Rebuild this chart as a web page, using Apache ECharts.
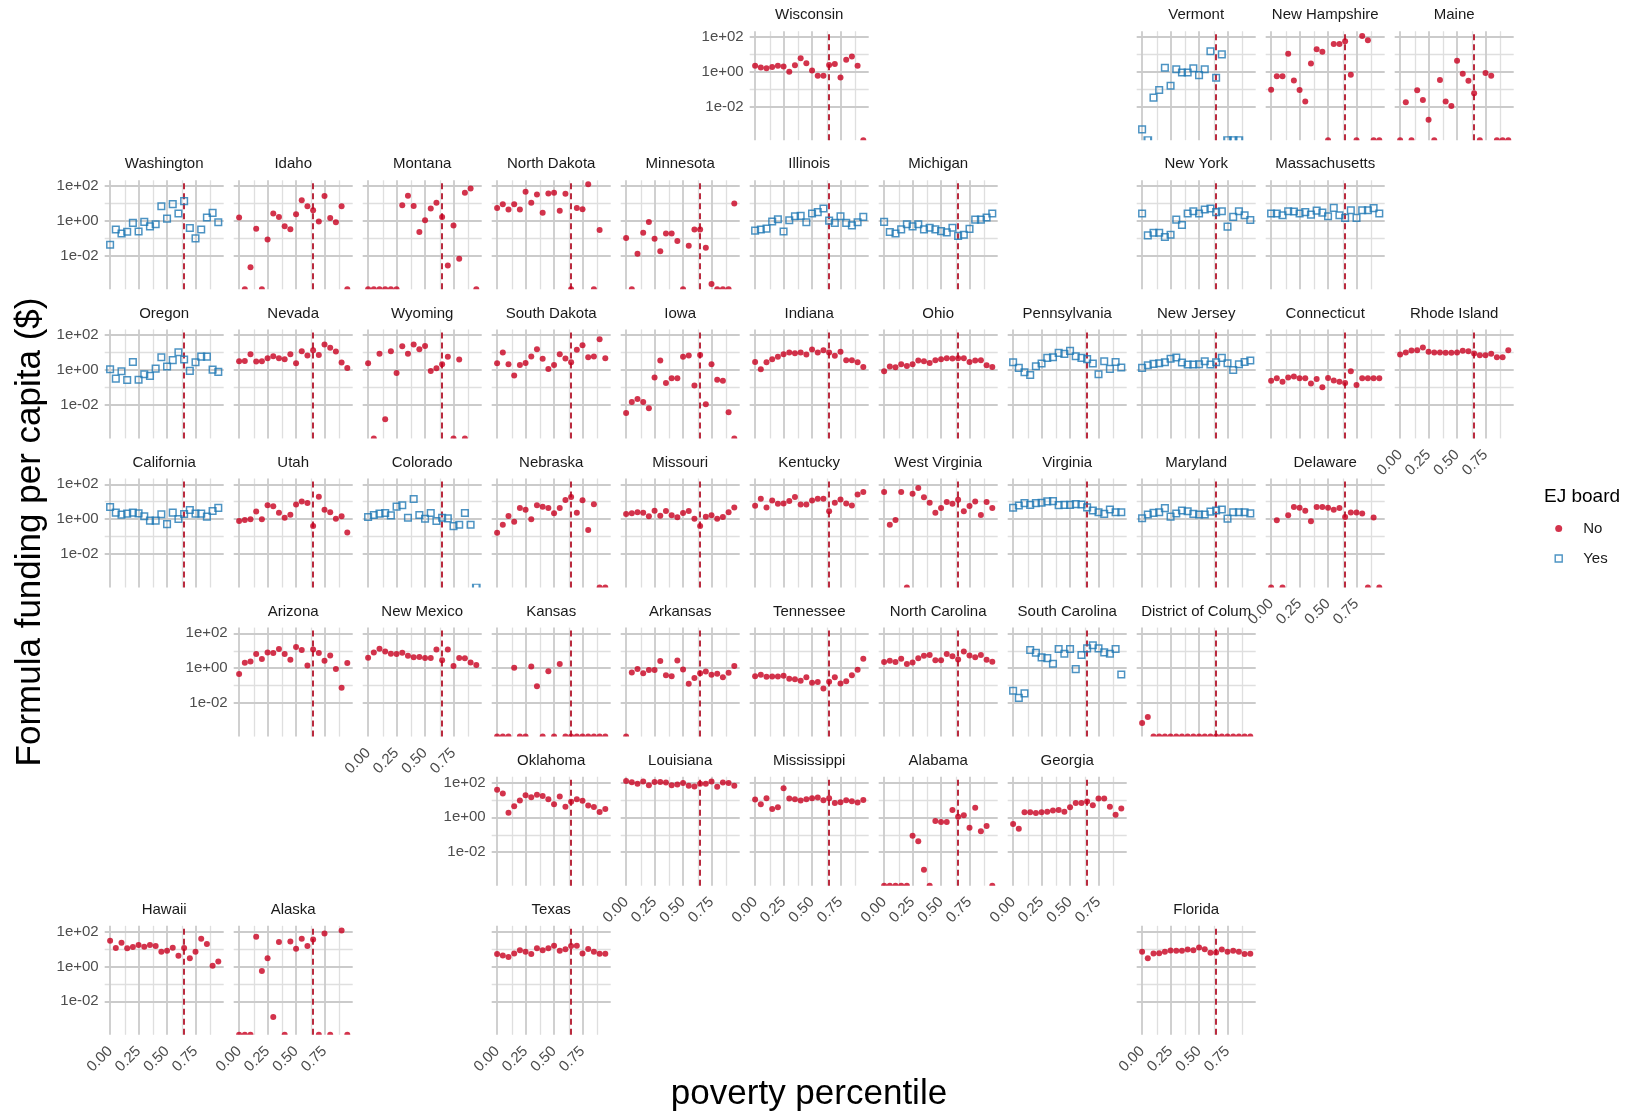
<!DOCTYPE html>
<html>
<head>
<meta charset="utf-8">
<title>Formula funding per capita by poverty percentile</title>
<script src="https://cdn.jsdelivr.net/npm/echarts@6/dist/echarts.min.js"></script>
<style>
  html, body { margin: 0; padding: 0; background: #ffffff; }
  #chart { width: 1631px; height: 1112px; }
</style>
</head>
<body>
<div id="chart"></div>
<script>
// ---------------------------------------------------------------------------
// Data: formula funding per capita ($) by poverty-percentile bin, per state.
// 0 = no funding in that bin (drawn on the panel floor), null = no tracts.
// ---------------------------------------------------------------------------
const povertyPercentile = [0, 0.05, 0.1, 0.15, 0.2, 0.25, 0.3, 0.35, 0.4, 0.45,
                           0.5, 0.55, 0.6, 0.65, 0.7, 0.75, 0.8, 0.85, 0.9, 0.95];
const thresholdPercentile = 0.65;

const wisconsin     = [2.2, 1.8, 1.6, 1.9, 2.2, 2.0, 1.0, 2.4, 6.1, 3.1, 1.2, 0.6, 0.6, 2.5, 2.8, 0.48, 4.9, 7.5, 2.2, 0];
const vermont       = [0.0005, 0, 0.033, 0.091, 1.7, 0.16, 1.4, 0.92, 0.92, 1.6, 0.65, 1.4, 15, 0.46, 10, 0, 0, 0, null, null];
const newHampshire  = [0.095, 0.55, 0.55, 11, 0.32, 0.091, 0.02, 3.0, 20, 14, 0, 40, 40, 57, 0.68, 0, 114, 65, 0, 0];
const maine         = [0, 0.018, 0, 0.087, 0.024, 0.0018, 0, 0.34, 0.02, 0.011, 4.3, 0.78, 0.31, 0.059, 0, 0.85, 0.6, 0, 0, 0];

const washington    = [0.043, 0.32, 0.19, 0.24, 0.77, 0.25, 0.88, 0.49, 0.64, 7.0, 1.36, 9.2, 2.65, 13.6, 0.39, 0.10, 0.32, 1.56, 2.9, 0.84];
const idaho         = [1.56, 0, 0.0022, 0.36, 0, 0.087, 2.65, 1.7, 0.49, 0.33, 2.4, 15.6, 7.0, 4.1, 0.92, 26.5, 1.49, 0.84, 7.0, 0];
const montana       = [0, 0, 0, 0, 0, 0, 8.0, 27.7, 7.3, 0.23, 1.09, 5.2, 10.9, 1.7, 0.0028, 0.54, 0.0067, 41, 73, 0];
const northDakota   = [5.6, 9.2, 4.5, 9.2, 4.5, 47, 10.9, 33, 2.9, 38, 41, 3.9, 36, 0, 5.6, 4.7, 125, 0, 0.30, null];
const minnesota     = [0.104, 0, 0.013, 0.21, 0.88, 0.096, 0.018, 0.19, 0.19, 0.070, 0, 0.038, 0.32, 0.32, 0.029, 0.00024, 0, 0, 0, 10];
const illinois      = [0.28, 0.32, 0.36, 0.92, 1.25, 0.25, 1.09, 1.86, 1.94, 0.84, 2.65, 3.2, 5.2, 1.04, 0.77, 1.86, 0.77, 0.56, 0.84, 1.7];
const michigan      = [0.88, 0.23, 0.19, 0.33, 0.64, 0.49, 0.64, 0.33, 0.41, 0.33, 0.26, 0.22, 0.41, 0.14, 0.16, 0.35, 1.19, 1.19, 1.56, 2.65];
const newYork       = [2.65, 0.149, 0.21, 0.21, 0.119, 0.16, 1.19, 0.59, 2.65, 3.6, 2.65, 4.5, 5.2, 3.2, 3.6, 0.47, 1.7, 3.6, 2.1, 1.14];
const massachusetts = [2.65, 2.65, 2.1, 3.6, 3.45, 2.65, 3.2, 2.3, 3.9, 3.0, 1.86, 5.6, 2.1, 1.49, 4.1, 1.49, 4.1, 4.1, 5.4, 2.65];

const oregon        = [1.11, 0.32, 0.85, 0.27, 2.9, 0.28, 0.57, 0.46, 1.21, 5.4, 1.58, 3.7, 10.5, 4.0, 0.89, 2.8, 5.9, 5.9, 1.06, 0.78];
const nevada        = [3.2, 3.35, 8.1, 3.07, 3.2, 4.8, 6.2, 4.8, 4.2, 8.1, 2.46, 12, 6.8, 13.7, 7.4, 29, 18.7, 11.5, 2.7, 1.33];
const wyoming       = [2.46, 0, 8.5, 0.0015, 12, 0.68, 23, 8.5, 29, 15.7, 24, 0.89, 1.27, 2.15, 5.7, 0, 4.0, 0, null, null];
const southDakota   = [2.46, 10.1, 2.15, 0.48, 1.97, 2.57, 5.9, 15.7, 4.4, 1.16, 1.97, 8.1, 4.6, 2.8, 14.4, 26.6, 5.4, 5.9, 59, 4.8];
const iowa          = [0.0034, 0.0148, 0.022, 0.0148, 0.0064, 0.37, 3.5, 0.18, 0.34, 0.34, 5.7, 6.8, 0.128, 7.4, 0.0108, 2.15, 0.28, 0.24, 0.0038, 0];
const indiana       = [2.9, 1.11, 2.8, 4.2, 5.7, 8.1, 10.1, 9.2, 10.1, 7.7, 15, 10.1, 13.7, 10.1, 6.5, 11, 3.7, 3.7, 2.8, 1.51];
const ohio          = [0.85, 1.58, 1.45, 2.15, 1.73, 2.15, 3.5, 3.2, 2.57, 3.7, 4.2, 4.8, 4.6, 4.8, 4.8, 2.9, 3.5, 3.7, 1.89, 1.51];
const pennsylvania  = [2.8, 1.33, 0.75, 0.52, 1.65, 2.35, 5.0, 5.4, 9.7, 8.5, 12.6, 6.2, 5.0, 4.2, 2.35, 0.57, 3.2, 1.16, 2.9, 1.39];
const newJersey     = [1.33, 1.89, 2.25, 2.46, 2.8, 4.4, 5.2, 2.7, 2.06, 2.06, 2.15, 3.2, 2.06, 2.8, 5.0, 2.46, 1.0, 2.15, 2.9, 3.5];
const connecticut   = [0.24, 0.34, 0.21, 0.37, 0.42, 0.34, 0.34, 0.17, 0.31, 0.103, 0.35, 0.25, 0.21, 0.18, 0.85, 0.14, 0.34, 0.34, 0.34, 0.34];
const rhodeIsland   = [7.7, 10.1, 13.2, 13.7, 19.5, 11, 10.1, 10.1, 9.7, 9.7, 10.1, 12.6, 12, 8.8, 7.1, 7.1, 8.5, 5.4, 5.4, 13.7];

const california    = [5.0, 2.35, 1.81, 2.06, 2.35, 2.15, 1.45, 0.82, 0.82, 1.89, 0.52, 2.35, 1.02, 1.97, 3.35, 2.06, 2.06, 1.39, 2.9, 4.4];
const utah          = [0.78, 0.89, 0.97, 2.7, 0.97, 6.2, 5.4, 2.35, 1.21, 1.81, 6.8, 10.1, 8.5, 0.40, 19.5, 3.5, 2.46, 1.06, 1.45, 0.174];
const colorado      = [1.33, 1.73, 2.06, 2.25, 1.65, 5.2, 6.2, 1.21, 14.4, 1.73, 1.06, 2.25, 0.78, 1.21, 1.11, 0.40, 0.48, 2.25, 0.48, 0];
const nebraska      = [0.167, 0.48, 1.51, 0.71, 4.4, 3.5, 0.97, 6.2, 5.2, 4.4, 2.15, 4.4, 12.6, 18.7, 2.35, 12, 0.24, 7.1, 0, 0];
const missouri      = [1.97, 2.15, 2.46, 2.35, 1.45, 3.07, 1.58, 2.9, 1.65, 1.27, 2.25, 2.9, 1.06, 0.40, 1.39, 1.65, 1.06, 1.33, 2.46, 4.6];
const kentucky      = [5.8, 14.8, 4.7, 11.8, 7.6, 7.9, 10.8, 18.5, 6.9, 6.9, 11.8, 14.8, 14.8, 2.86, 8.7, 13.5, 7.9, 6.1, 26, 36];
const westVirginia  = [36, 0.48, 0.90, 36, 0, 28.8, 61, 17.7, 8.7, 2.29, 4.3, 9.5, 7.6, 12.9, 2.86, 5.6, 10.4, 1.75, 9.5, 4.3];
const virginia      = [4.5, 6.1, 8.3, 6.6, 8.3, 8.7, 10.4, 10.8, 6.4, 6.6, 6.6, 7.3, 6.9, 4.7, 3.1, 2.5, 2.0, 3.6, 2.5, 2.5];
const maryland      = [1.12, 1.83, 2.29, 2.5, 4.3, 1.40, 2.09, 3.1, 2.86, 2.0, 1.83, 1.83, 2.7, 3.1, 3.6, 1.07, 2.5, 2.5, 2.5, 2.15];
const delaware      = [0, 0.86, 0, 1.67, 4.9, 4.5, 3.0, 0.75, 4.9, 4.9, 4.5, 3.4, 4.3, 1.34, 2.4, 2.4, 2.09, 0, 1.23, 0];

const arizona       = [0.46, 2.06, 2.46, 6.5, 3.35, 8.1, 7.4, 12.6, 6.5, 3.07, 16.4, 11, 1.45, 12, 7.4, 2.7, 5.4, 0.89, 0.075, 1.97];
const newMexico     = [4.0, 8.1, 13.2, 9.2, 6.8, 6.5, 7.7, 5.2, 4.2, 4.4, 3.8, 3.8, 12, 2.9, 12, 1.33, 3.8, 3.7, 2.15, 1.51];
const kansas        = [0, 0, 0, 1.06, 0, 0, 1.27, 0.094, 0, 0.68, 0, 1.73, 0, 0, 0, 0, 0, 0, 0, 0];
const arkansas      = [0, 0.57, 0.89, 0.52, 0.78, 0.78, 2.57, 0.40, 0.35, 2.8, 0.85, 0.128, 0.28, 0.52, 0.65, 0.42, 0.48, 0.30, 0.55, 1.33];
const tennessee     = [0.35, 0.42, 0.32, 0.34, 0.34, 0.37, 0.25, 0.23, 0.19, 0.30, 0.146, 0.16, 0.069, 0.167, 0.30, 0.134, 0.18, 0.39, 0.82, 3.5];
const northCarolina = [2.25, 2.7, 2.25, 3.5, 1.73, 2.15, 3.7, 5.2, 5.7, 2.9, 2.9, 6.5, 4.8, 3.2, 9.2, 5.4, 4.2, 5.7, 3.07, 2.35];
const southCarolina = [0.051, 0.020, 0.036, 11, 7.7, 4.2, 3.8, 1.81, 12.6, 6.8, 12.6, 0.89, 5.7, 13.7, 21, 13.7, 8.1, 6.8, 12.6, 0.44];
const districtOfColumbia = [0.00073, 0.0016, 0, 0, 0, 0, 0, 0, 0, 0, 0, 0, 0, 0, 0, 0, 0, 0, 0, 0];

const oklahoma      = [38, 23, 1.86, 4.3, 9.2, 18.6, 14.3, 20, 17, 10.9, 5.6, 15.6, 4.1, 7.7, 10.9, 8.8, 4.7, 3.9, 2.0, 3.0];
const louisiana     = [120, 104, 84, 115, 70, 105, 105, 100, 70, 77, 92, 64, 59, 84, 84, 115, 56, 100, 92, 64];
const mississippi   = [10.4, 5.6, 12.5, 3.0, 3.8, 47, 11.9, 10.9, 9.2, 10.9, 12.5, 13.6, 9.6, 12.5, 6.7, 7.3, 9.6, 8.4, 7.0, 10];
const alabama       = [0, 0, 0, 0, 0, 0.087, 0.043, 0.001, 0, 0.61, 0.54, 0.54, 2.65, 1.09, 1.30, 0.25, 3.6, 0.16, 0.32, 0];
const georgia       = [0.41, 0.22, 1.94, 1.94, 1.78, 1.94, 2.12, 2.43, 2.65, 2.12, 3.8, 6.7, 6.7, 8.0, 4.9, 11.9, 11.9, 4.1, 1.43, 3.2];

const hawaii        = [30, 11.4, 23, 10.9, 13, 17, 13.6, 17, 14.9, 7.0, 8.0, 11.9, 4.1, 11.4, 2.9, 7.0, 39, 19.4, 1.09, 1.94];
const alaska        = [0, 0, 0, 51, 0.54, 2.9, 0.00125, 25, 0, 26.5, 10.4, 39, 14.9, 34.5, 0, 77, 0, null, 115, 0];
const texas         = [5.2, 4.3, 3.45, 5.6, 8.4, 7.0, 5.2, 10.9, 8.4, 10.9, 15.6, 8.0, 9.6, 15, 15.6, 5.6, 10, 7.0, 5.4, 5.4];
const florida       = [6.9, 2.9, 5.6, 5.7, 6.9, 8.2, 8.0, 8.0, 9.4, 8.6, 12.2, 9.8, 6.1, 6.3, 9.4, 6.9, 8.0, 6.9, 5.1, 5.3];

// State label, EJ board status and the value list for each facet.
const stateNames = [
  'Wisconsin', 'Vermont', 'New Hampshire', 'Maine',
  'Washington', 'Idaho', 'Montana', 'North Dakota', 'Minnesota', 'Illinois', 'Michigan', 'New York', 'Massachusetts',
  'Oregon', 'Nevada', 'Wyoming', 'South Dakota', 'Iowa', 'Indiana', 'Ohio', 'Pennsylvania', 'New Jersey', 'Connecticut', 'Rhode Island',
  'California', 'Utah', 'Colorado', 'Nebraska', 'Missouri', 'Kentucky', 'West Virginia', 'Virginia', 'Maryland', 'Delaware',
  'Arizona', 'New Mexico', 'Kansas', 'Arkansas', 'Tennessee', 'North Carolina', 'South Carolina', 'District of Columbia',
  'Oklahoma', 'Louisiana', 'Mississippi', 'Alabama', 'Georgia',
  'Hawaii', 'Alaska', 'Texas', 'Florida'
];
const ejBoard = [
  'No', 'Yes', 'No', 'No',
  'Yes', 'No', 'No', 'No', 'No', 'Yes', 'Yes', 'Yes', 'Yes',
  'Yes', 'No', 'No', 'No', 'No', 'No', 'No', 'Yes', 'Yes', 'No', 'No',
  'Yes', 'No', 'Yes', 'No', 'No', 'No', 'No', 'Yes', 'Yes', 'No',
  'No', 'No', 'No', 'No', 'No', 'No', 'Yes', 'No',
  'No', 'No', 'No', 'No', 'No',
  'No', 'No', 'No', 'No'
];
const stateValues = [
  wisconsin, vermont, newHampshire, maine,
  washington, idaho, montana, northDakota, minnesota, illinois, michigan, newYork, massachusetts,
  oregon, nevada, wyoming, southDakota, iowa, indiana, ohio, pennsylvania, newJersey, connecticut, rhodeIsland,
  california, utah, colorado, nebraska, missouri, kentucky, westVirginia, virginia, maryland, delaware,
  arizona, newMexico, kansas, arkansas, tennessee, northCarolina, southCarolina, districtOfColumbia,
  oklahoma, louisiana, mississippi, alabama, georgia,
  hawaii, alaska, texas, florida
];

// Geographic facet grid: [row, column] of each state panel.
const facetCell = [
  [1, 6], [1, 9], [1, 10], [1, 11],
  [2, 1], [2, 2], [2, 3], [2, 4], [2, 5], [2, 6], [2, 7], [2, 9], [2, 10],
  [3, 1], [3, 2], [3, 3], [3, 4], [3, 5], [3, 6], [3, 7], [3, 8], [3, 9], [3, 10], [3, 11],
  [4, 1], [4, 2], [4, 3], [4, 4], [4, 5], [4, 6], [4, 7], [4, 8], [4, 9], [4, 10],
  [5, 2], [5, 3], [5, 4], [5, 5], [5, 6], [5, 7], [5, 8], [5, 9],
  [6, 4], [6, 5], [6, 6], [6, 7], [6, 8],
  [7, 1], [7, 2], [7, 4], [7, 9]
];

// Axis breaks.
const xLabelValues = [0, 0.25, 0.5, 0.75];
const xMajorBreaks = [0, 0.25, 0.5, 0.75];
const xMinorBreaks = [0.125, 0.375, 0.625, 0.875];
const yMajorBreaks = [0.01, 1, 100];
const yMinorBreaks = [0.001, 0.1, 10];

// ---------------------------------------------------------------------------
// Layout and style
// ---------------------------------------------------------------------------
const FONT = '"Liberation Sans", Arial, Helvetica, sans-serif';
const PANEL_W = 119, PANEL_H = 109;
const COL_STEP = 129, ROW_STEP = 149.1;
const LEFT0 = 104.7, TOP0 = 31.2;
const X_MIN = -0.0475, X_MAX = 0.9975;
const Y_MIN = Math.pow(10, -3.92), Y_MAX = Math.pow(10, 2.33);
const RED = '#C8001F', BLUE = '#1F78B4', VLINE = '#B3152B';
const MAJOR = { color: '#cbcbcb', width: 1.8, type: 'solid' };
const MINOR = { color: '#dfdfdf', width: 1.3, type: 'solid' };

function expLabel(v) {
  const l = Math.log10(v);
  const e = Math.round(l);
  if (Math.abs(l - e) > 1e-6 || e % 2 !== 0 || e < -2 || e > 2) return '';
  return '1e' + (e < 0 ? '-' : '+') + String(Math.abs(e)).padStart(2, '0');
}

// Which panels carry axis labels: first panel of each row (y), last panel of each column (x).
const firstColInRow = {}, lastRowInCol = {};
facetCell.forEach(([r, c]) => {
  firstColInRow[r] = Math.min(firstColInRow[r] ?? 99, c);
  lastRowInCol[c] = Math.max(lastRowInCol[c] ?? 0, r);
});

const grid = [], xAxis = [], yAxis = [], series = [], graphic = [];

stateNames.forEach((name, i) => {
  const [r, c] = facetCell[i];
  const ej = ejBoard[i];
  const vals = stateValues[i];
  const left = LEFT0 + (c - 1) * COL_STEP;
  const top = TOP0 + (r - 1) * ROW_STEP;

  grid.push({ left, top, width: PANEL_W, height: PANEL_H, containLabel: false, outerBoundsMode: 'none' });

  xAxis.push({
    type: 'value', gridIndex: i, min: X_MIN, max: X_MAX,
    axisLine: { show: false }, axisTick: { show: false }, splitLine: { show: false },
    axisLabel: {
      show: lastRowInCol[c] === r, customValues: xLabelValues, rotate: 45, margin: 14,
      padding: [16, 0, 0, 0],
      formatter: v => Number(v).toFixed(2), color: '#4d4d4d', fontSize: 15, fontFamily: FONT
    }
  });

  yAxis.push({
    type: 'log', logBase: 10, gridIndex: i, min: Y_MIN, max: Y_MAX,
    axisLine: { show: false }, axisTick: { show: false }, splitLine: { show: false }, minorSplitLine: { show: false },
    axisLabel: {
      show: firstColInRow[r] === c, formatter: expLabel, showMinLabel: false, showMaxLabel: false,
      margin: 6, color: '#4d4d4d', fontSize: 15, fontFamily: FONT
    }
  });

  const pts = [], floorPts = [];
  vals.forEach((v, k) => {
    if (v == null) return;
    if (v > 0) pts.push([povertyPercentile[k], v]);
    else floorPts.push([povertyPercentile[k], Y_MIN]);   // zero funding sits on the panel floor
  });

  const isNo = ej === 'No';
  const markStyle = isNo
    ? { color: RED, borderWidth: 0 }
    : { color: 'rgba(0,0,0,0)', borderColor: BLUE, borderWidth: 1.5 };
  const size = isNo ? 6 : 6.6;

  const gridLines = [
    ...xMinorBreaks.map(v => ({ xAxis: v, lineStyle: MINOR })),
    ...yMinorBreaks.map(v => ({ yAxis: v, lineStyle: MINOR })),
    ...xMajorBreaks.map(v => ({ xAxis: v, lineStyle: MAJOR })),
    ...yMajorBreaks.map(v => ({ yAxis: v, lineStyle: MAJOR })),
    { xAxis: thresholdPercentile, lineStyle: { color: VLINE, width: 1.8, type: [6, 4] } }
  ];

  series.push({
    type: 'scatter', name: ej, xAxisIndex: i, yAxisIndex: i, data: pts,
    symbol: isNo ? 'circle' : 'rect', symbolSize: size,
    itemStyle: markStyle, z: 10, silent: true, animation: false,
    markLine: {
      silent: true, symbol: ['none', 'none'], animation: false,
      label: { show: false }, emphasis: { disabled: true },
      data: gridLines
    }
  });

  // Points on the floor are cut by the panel edge: only their upper half shows.
  if (floorPts.length) {
    series.push({
      type: 'scatter', name: ej, xAxisIndex: i, yAxisIndex: i, data: floorPts,
      symbol: isNo ? 'path://M0,10 A10,10 0 0 1 20,10 Z' : 'path://M0,10 L0,0 L20,0 L20,10',
      symbolSize: [size, size / 2],
      symbolOffset: [0, -size / 4],
      symbolKeepAspect: false,
      itemStyle: markStyle, z: 10, silent: true, animation: false
    });
  }

  // Facet strip label.
  graphic.push({
    type: 'text', silent: true,
    x: left + PANEL_W / 2, y: top - 16,
    style: {
      text: name, fill: '#1a1a1a', font: '15px ' + FONT,
      textAlign: 'center', textVerticalAlign: 'middle',
      width: PANEL_W, overflow: 'truncate', ellipsis: ''
    }
  });
});

// Axis titles and legend title.
graphic.push(
  {
    type: 'text', silent: true, x: 30, y: 532, rotation: Math.PI / 2,
    style: { text: 'Formula funding per capita ($)', fill: '#000', font: '35px ' + FONT,
             textAlign: 'center', textVerticalAlign: 'middle' }
  },
  {
    type: 'text', silent: true, x: 809, y: 1094,
    style: { text: 'poverty percentile', fill: '#000', font: '35px ' + FONT,
             textAlign: 'center', textVerticalAlign: 'middle' }
  },
  {
    type: 'text', silent: true, x: 1544, y: 497,
    style: { text: 'EJ board', fill: '#000', font: '19px ' + FONT,
             textAlign: 'left', textVerticalAlign: 'middle' }
  }
);

const chart = echarts.init(document.getElementById('chart'), null, { renderer: 'canvas' });
chart.setOption({
  animation: false,
  backgroundColor: '#ffffff',
  grid, xAxis, yAxis, series, graphic,
  legend: {
    orient: 'vertical', left: 1549.5, top: 514.5,
    itemWidth: 7, itemHeight: 7, itemGap: 12, selectedMode: false,
    textStyle: { fontSize: 15, color: '#1a1a1a', fontFamily: FONT, lineHeight: 18, padding: [0, 0, 0, 16] },
    data: [
      { name: 'No', icon: 'circle', itemStyle: { color: RED, borderWidth: 0 } },
      { name: 'Yes', icon: 'rect', itemStyle: { color: 'rgba(0,0,0,0)', borderColor: BLUE, borderWidth: 1.4 } }
    ]
  }
});
</script>
</body>
</html>
